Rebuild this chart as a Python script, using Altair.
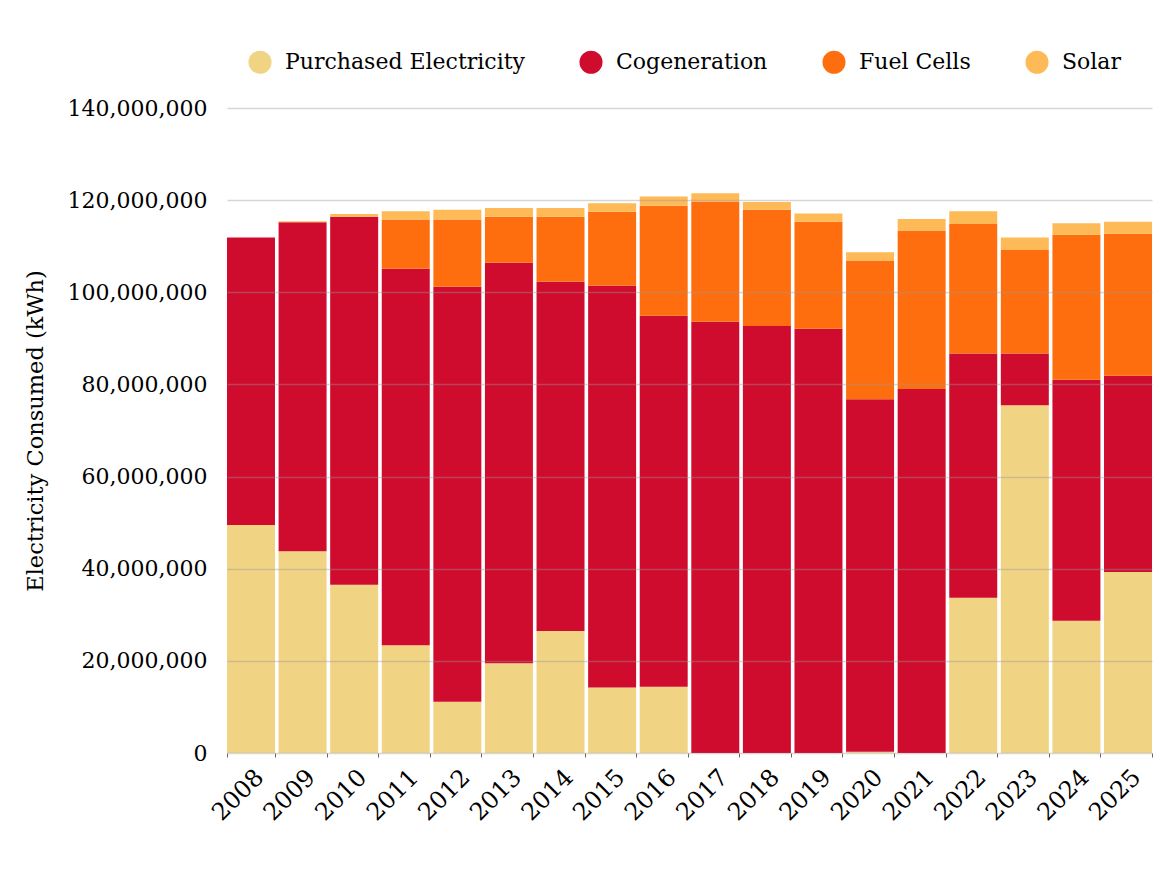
import altair as alt
import pandas as pd

years = [str(y) for y in range(2008, 2026)]
sources = ["Purchased Electricity", "Cogeneration", "Fuel Cells", "Solar"]
colors = ["#F0D383", "#CF0B2E", "#FE6E0E", "#FFBA58"]

# values in millions of kWh
purchased = [49.5, 43.8, 36.5, 23.4, 11.1, 19.5, 26.5, 14.2, 14.4, 0, 0, 0, 0.25, 0, 33.7, 75.5, 28.7, 39.3]
cogeneration = [62.4, 71.4, 79.9, 81.7, 90.1, 86.9, 75.8, 87.2, 80.5, 93.6, 92.7, 92.1, 76.55, 79.0, 53.0, 11.2, 52.3, 42.6]
fuel_cells = [0, 0, 0, 10.7, 14.6, 10.0, 14.1, 16.1, 23.9, 26.1, 25.2, 23.2, 30.1, 34.4, 28.1, 22.5, 31.5, 30.8]
solar = [0, 0.2, 0.6, 1.8, 2.1, 1.9, 1.9, 1.8, 2.0, 1.8, 1.7, 1.8, 1.8, 2.5, 2.8, 2.7, 2.5, 2.6]

y_ticks = [0, 20e6, 40e6, 60e6, 80e6, 100e6, 120e6, 140e6]

rows = []
for i, yr in enumerate(years):
    for k, (name, series) in enumerate(zip(sources, [purchased, cogeneration, fuel_cells, solar])):
        rows.append({"Year": yr, "Source": name, "Value": series[i] * 1e6, "ord": k})
df = pd.DataFrame(rows)

FONT = "DejaVu Serif"

chart = alt.Chart(df).mark_bar().encode(
    x=alt.X("Year:O",
            scale=alt.Scale(paddingInner=0.07, paddingOuter=0),
            axis=alt.Axis(title=None, labelAngle=-45, labelFont=FONT, labelFontSize=24,
                          labelColor="#000000", tickBand="extent", tickSize=4,
                          tickColor="#666666", domain=False, grid=False, labelPadding=8)),
    y=alt.Y("Value:Q", stack="zero",
            scale=alt.Scale(domain=[0, 140e6], nice=False),
            axis=alt.Axis(values=y_ticks, format=",.0f", title="Electricity Consumed (kWh)",
                          titleFont=FONT, titleFontSize=22.5, titleFontWeight="normal",
                          titleColor="#000000", titleX=-180, titleY=322.5,
                          labelFont=FONT, labelFontSize=22, labelColor="#000000",
                          grid=True, gridColor="#999999", gridOpacity=0.4, gridWidth=1.3,
                          domain=False, ticks=False, labelPadding=20, zindex=1)),
    color=alt.Color("Source:N",
                    scale=alt.Scale(domain=sources, range=colors),
                    legend=alt.Legend(title=None, orient="none", legendX=21, legendY=-58,
                                      direction="horizontal", columns=4,
                                      symbolType="circle", symbolSize=530,
                                      symbolStrokeWidth=0, symbolOpacity=1,
                                      labelFont=FONT, labelFontSize=22, labelColor="#000000",
                                      labelOffset=13, columnPadding=54, padding=0,
                                      labelLimit=400)),
    order=alt.Order("ord:Q"),
).properties(
    width=925,
    height=645,
    autosize=alt.AutoSizeParams(type="none"),
    padding={"left": 219, "top": 100, "right": 8, "bottom": 100},
).configure(
    background="#FFFFFF",
    view=alt.ViewConfig(strokeWidth=0, stroke="transparent"),
)

chart.save("out.html", embed_options={"renderer": "svg", "actions": False})
